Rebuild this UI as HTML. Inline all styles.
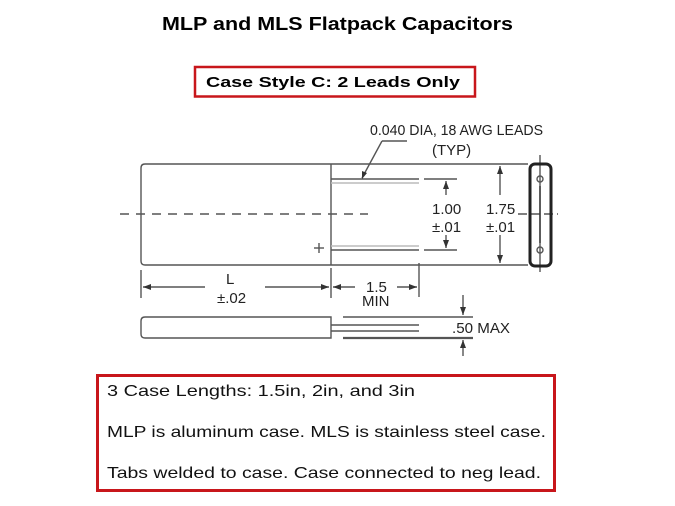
<!DOCTYPE html>
<html><head><style>html,body{margin:0;padding:0;background:#fff;width:675px;height:506px;overflow:hidden}</style></head>
<body>
<svg width="675" height="506" viewBox="0 0 675 506" xmlns="http://www.w3.org/2000/svg" font-family="Liberation Sans, sans-serif">
<text x="162" y="30" font-size="18" font-weight="bold" textLength="351" lengthAdjust="spacingAndGlyphs">MLP and MLS Flatpack Capacitors</text>
<rect x="195" y="67" width="280" height="29.5" fill="none" stroke="#c8161b" stroke-width="2.5"/>
<text x="206" y="87" font-size="15" font-weight="bold" textLength="254" lengthAdjust="spacingAndGlyphs">Case Style C: 2 Leads Only</text>

<g stroke="#555" fill="none" stroke-width="1.4">
<path d="M145 164 H528 M145 265 H528 M145 164 Q141 164 141 168 V261 Q141 265 145 265"/>
<line x1="331" y1="164" x2="331" y2="265"/>
<line x1="331" y1="179" x2="419" y2="179"/><line x1="331" y1="183" x2="419" y2="183" stroke="#bbb"/>
<line x1="331" y1="250" x2="419" y2="250"/><line x1="331" y1="246" x2="419" y2="246" stroke="#bbb"/>
<line x1="424" y1="179" x2="457" y2="179"/><line x1="424" y1="250" x2="457" y2="250"/>
<line x1="446" y1="181" x2="446" y2="195"/><line x1="446" y1="235" x2="446" y2="248"/>
<line x1="500" y1="166" x2="500" y2="195"/><line x1="500" y1="235" x2="500" y2="263"/>
<line x1="120" y1="214" x2="368" y2="214" stroke-dasharray="9 7"/>
<line x1="518" y1="214" x2="558" y2="214" stroke-dasharray="9 4"/>
<line x1="314" y1="248" x2="324" y2="248"/><line x1="319" y1="243" x2="319" y2="253"/>
<line x1="407" y1="141" x2="382" y2="141"/><line x1="382" y1="141" x2="362" y2="178"/>
<line x1="141" y1="270" x2="141" y2="298"/><line x1="331" y1="268" x2="331" y2="298"/><line x1="419" y1="263" x2="419" y2="297"/>
<line x1="143" y1="287" x2="205" y2="287"/><line x1="265" y1="287" x2="329" y2="287"/>
<line x1="333" y1="287" x2="355" y2="287"/><line x1="397" y1="287" x2="417" y2="287"/>
<path d="M145 317 H331 V338 H145 Q141 338 141 334 V321 Q141 317 145 317"/>
<line x1="331" y1="325" x2="419" y2="325"/><line x1="331" y1="331" x2="419" y2="331"/>
<line x1="343" y1="317" x2="473" y2="317"/><line x1="343" y1="338" x2="473" y2="338" stroke-width="2.2"/>
<line x1="463" y1="295" x2="463" y2="315"/><line x1="463" y1="340" x2="463" y2="356"/>
<line x1="540" y1="155" x2="540" y2="272"/>
<rect x="530" y="164" width="21" height="102" rx="5" stroke="#222" stroke-width="3"/>
<line x1="540" y1="186" x2="540" y2="243" stroke="#333"/>
<circle cx="540" cy="179" r="3"/><circle cx="540" cy="250" r="3"/>
</g>
<g fill="#333">
<path d="M446 181 l-3 8 h6z M446 248 l-3 -8 h6z M500 166 l-3 8 h6z M500 263 l-3 -8 h6z"/>
<path d="M143 287 l8 -3 v6z M329 287 l-8 -3 v6z M333 287 l8 -3 v6z M417 287 l-8 -3 v6z"/>
<path d="M463 315 l-3 -8 h6z M463 340 l-3 8 h6z M362 179 l0 -8 l5 2z"/>
</g>
<g font-size="15" fill="#222">
<text x="370" y="135" textLength="173" lengthAdjust="spacingAndGlyphs">0.040 DIA, 18 AWG LEADS</text>
<text x="432" y="155">(TYP)</text>
<text x="432" y="214">1.00</text><text x="432" y="232">±.01</text>
<text x="486" y="214">1.75</text><text x="486" y="232">±.01</text>
<text x="226" y="284">L</text><text x="217" y="303">±.02</text>
<text x="366" y="292">1.5</text><text x="362" y="306">MIN</text>
<text x="452" y="333" textLength="58" lengthAdjust="spacingAndGlyphs">.50 MAX</text>
</g>
<rect x="97.5" y="375.5" width="457" height="115" fill="none" stroke="#c8161b" stroke-width="3"/>
<g font-size="16" fill="#111">
<text x="107" y="396" textLength="308" lengthAdjust="spacingAndGlyphs">3 Case Lengths: 1.5in, 2in, and 3in</text>
<text x="107" y="437" textLength="439" lengthAdjust="spacingAndGlyphs">MLP is aluminum case. MLS is stainless steel case.</text>
<text x="107" y="478" textLength="434" lengthAdjust="spacingAndGlyphs">Tabs welded to case. Case connected to neg lead.</text>
</g>
</svg>
</body></html>
